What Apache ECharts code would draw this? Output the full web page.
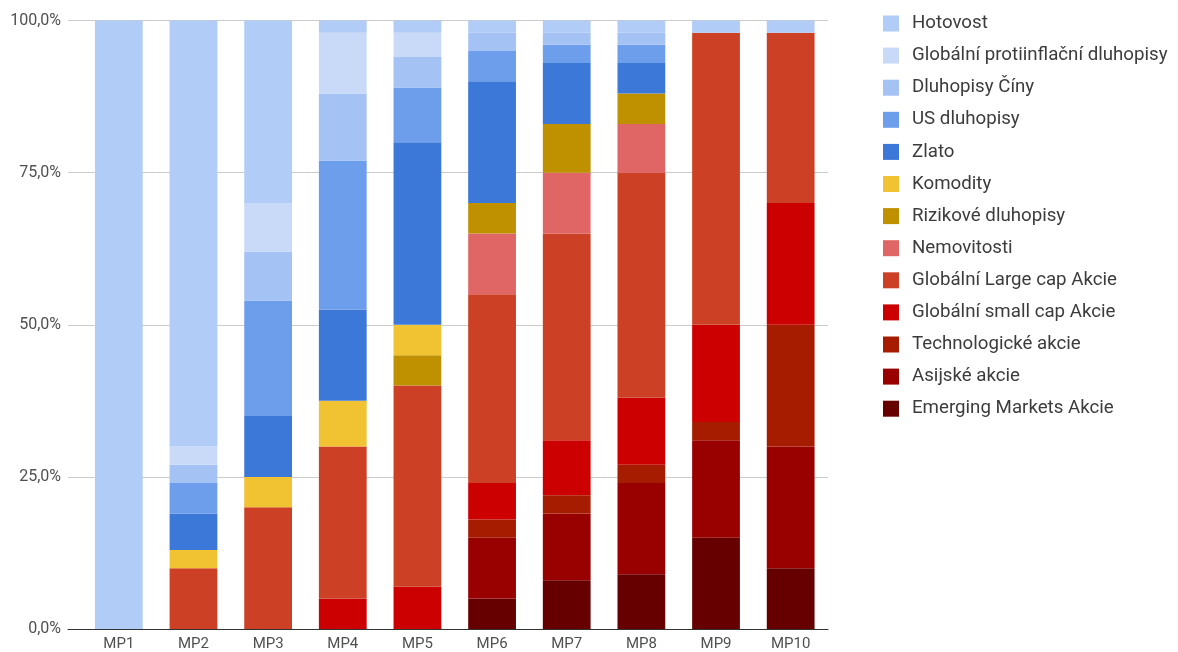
<!DOCTYPE html>
<html>
<head>
<meta charset="utf-8">
<script src="https://cdn.jsdelivr.net/npm/echarts@6/dist/echarts.min.js"></script>
<style>
html,body{margin:0;padding:0;background:#fff;}
#c{width:1178px;height:652px;}
</style>
</head>
<body>
<div id="c"></div>
<script>
const categories = ['MP1','MP2','MP3','MP4','MP5','MP6','MP7','MP8','MP9','MP10'];
const yTicks = [0, 25, 50, 75, 100];

const emergingMarkets = [0,0,0,0,0,5,8,9,15,10];
const asijske        = [0,0,0,0,0,10,11,15,16,20];
const technologicke  = [0,0,0,0,0,3,3,3,3,20];
const smallCap       = [0,0,0,5,7,6,9,11,16,20];
const largeCap       = [0,10,20,25,33,31,34,37,48,28];
const nemovitosti    = [0,0,0,0,0,10,10,8,0,0];
const rizikove       = [0,0,0,0,5,5,8,5,0,0];
const komodity       = [0,3,5,7.5,5,0,0,0,0,0];
const zlato          = [0,6,10,15,30,20,10,5,0,0];
const usDluhopisy    = [0,5,19,24.5,9,5,3,3,0,0];
const dluhopisyCiny  = [0,3,8,11,5,3,2,2,0,0];
const protiinflacni  = [0,3,8,10,4,0,0,0,0,0];
const hotovost       = [100,70,30,2,2,2,2,2,2,2];

// bottom to top stacking order
const seriesNames = [
  'Emerging Markets Akcie','Asijské akcie','Technologické akcie','Globální small cap Akcie',
  'Globální Large cap Akcie','Nemovitosti','Rizikové dluhopisy','Komodity','Zlato',
  'US dluhopisy','Dluhopisy Číny','Globální protiinflační dluhopisy','Hotovost'
];
const seriesData = [
  emergingMarkets, asijske, technologicke, smallCap, largeCap, nemovitosti, rizikove,
  komodity, zlato, usDluhopisy, dluhopisyCiny, protiinflacni, hotovost
];
const seriesColors = [
  '#660000','#990000','#a61c00','#cc0000','#cc4125','#e06666','#bf9000',
  '#f1c232','#3c78d8','#6d9eeb','#a4c2f4','#c9daf8','#b0ccf7'
];

const chart = echarts.init(document.getElementById('c'), null, {renderer:'canvas'});
const FONT = 'Roboto';

const series = seriesNames.map((n, i) => ({
  name: n,
  type: 'bar',
  stack: 'total',
  xAxisIndex: 1,
  yAxisIndex: 1,
  barCategoryGap: '36%',
  itemStyle: { color: seriesColors[i] },
  emphasis: { disabled: true },
  data: seriesData[i]
}));

chart.setOption({
  animation: false,
  backgroundColor: '#fff',
  textStyle: { fontFamily: FONT },
  grid: [
    { left: 68, right: 350, top: 20.5, bottom: 23 },
    { left: 81.5, right: 350, top: 20.5, bottom: 23 }
  ],
  legend: {
    orient: 'vertical',
    left: 878,
    top: 9,
    itemWidth: 16,
    itemHeight: 16,
    itemGap: 13.1,
    icon: 'rect',
    data: seriesNames.slice().reverse(),
    textStyle: { fontFamily: FONT, fontSize: 18.7, lineHeight: 18, color: '#3c3c3c', padding: [0,0,0,8] }
  },
  xAxis: [
    {
      type: 'category', gridIndex: 0, data: categories,
      axisLine: { show: true, lineStyle: { color: '#333', width: 1 } },
      axisTick: { show: false }, axisLabel: { show: false }, splitLine: { show: false }
    },
    {
      type: 'category', gridIndex: 1, data: categories,
      axisLine: { show: false }, axisTick: { show: false },
      axisLabel: { fontFamily: FONT, fontSize: 15, color: '#505050', margin: 8 }
    }
  ],
  yAxis: [
    {
      type: 'value', gridIndex: 0, min: yTicks[0], max: yTicks[yTicks.length-1],
      interval: yTicks[1] - yTicks[0],
      axisLine: { show: false }, axisTick: { show: false },
      axisLabel: {
        fontFamily: FONT, fontSize: 16, color: '#505050', margin: 7,
        formatter: v => v.toFixed(1).replace('.', ',') + '%'
      },
      splitLine: { lineStyle: { color: '#cccccc', width: 1 } }
    },
    {
      type: 'value', gridIndex: 1, min: 0, max: 100, interval: 25,
      show: false, splitLine: { show: false }
    }
  ],
  series: series
});
</script>
</body>
</html>
